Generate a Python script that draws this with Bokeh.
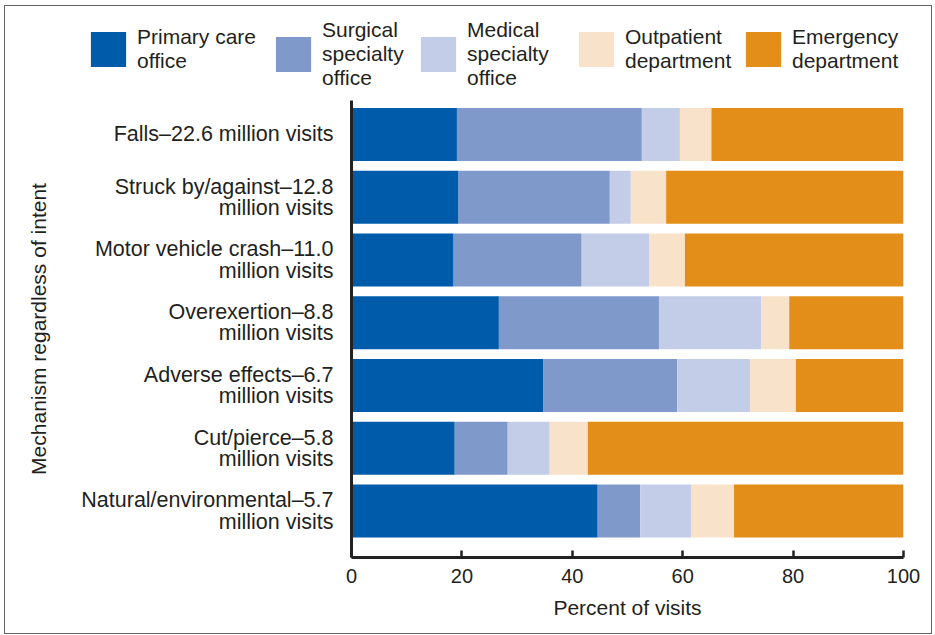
from bokeh.plotting import figure
from bokeh.layouts import column
from bokeh.models import Legend, LegendItem, FixedTicker, ColumnDataSource, Range1d
from bokeh.embed import file_html
from bokeh.resources import INLINE

# ---- data ----
mechanisms = [
    "Falls\u201322.6 million visits",
    "Struck by/against\u201312.8\nmillion visits",
    "Motor vehicle crash\u201311.0\nmillion visits",
    "Overexertion\u20138.8\nmillion visits",
    "Adverse effects\u20136.7\nmillion visits",
    "Cut/pierce\u20135.8\nmillion visits",
    "Natural/environmental\u20135.7\nmillion visits",
]
series_names = ["Primary care\noffice", "Surgical\nspecialty\noffice",
                "Medical\nspecialty\noffice",
                "Outpatient\ndepartment", "Emergency\ndepartment"]
primary = [19.1, 19.4, 18.5, 26.7, 34.7, 18.7, 44.6]
surgical = [33.5, 27.4, 23.2, 29.0, 24.3, 9.6, 7.7]
medical = [6.9, 3.8, 12.2, 18.5, 13.2, 7.6, 9.2]
outpatient = [5.7, 6.4, 6.5, 5.1, 8.3, 6.9, 7.8]
emergency = [34.8, 43.0, 39.6, 20.7, 19.5, 57.2, 30.7]
x_ticks = [0, 20, 40, 60, 80, 100]

colors = ["#005BAA", "#7F99CB", "#C4CDE7", "#F9E2CA", "#E48E1A"]
FONT = "Liberation Sans"
TXT = "#231F20"
# legend item placement (screen px inside the legend strip)
legend_left = [81, 266, 411, 569, 736]

n = len(mechanisms)
ypos = list(range(n - 1, -1, -1))
keys = ["primary", "surgical", "medical", "outpatient", "emergency"]
src = ColumnDataSource(dict(y=ypos, primary=primary, surgical=surgical, medical=medical,
                            outpatient=outpatient, emergency=emergency))

# ---- legend strip (swatches only; off-range dummy glyphs) ----
lg = figure(width=926, height=94, output_backend="svg", toolbar_location=None,
            x_range=Range1d(0, 1), y_range=Range1d(0, 1),
            x_axis_type=None, y_axis_type=None, frame_align=False,
            min_border_left=0, min_border_right=0, min_border_top=0, min_border_bottom=0)
lg.grid.visible = False
lg.outline_line_color = None
lg.border_fill_color = "white"
for nm, c, lx in zip(series_names, colors, legend_left):
    r = lg.rect(x=[-5], y=[-5], width=1, height=1, color=c, line_width=0)
    nlines = nm.count("\n") + 1
    vy = 10 if nlines == 3 else 27
    leg = Legend(items=[LegendItem(label=nm, renderers=[r])],
                 orientation="horizontal", location=(lx, vy),
                 glyph_width=44, glyph_height=44, label_standoff=7,
                 padding=0, margin=0, border_line_color=None, background_fill_alpha=0,
                 label_text_font=FONT, label_text_font_size="21px", label_text_color=TXT,
                 label_height=35)
    lg.add_layout(leg, "center")

# ---- main chart ----
p = figure(width=926, height=533, output_backend="svg", toolbar_location=None,
           x_range=Range1d(0, 100), y_range=Range1d(-0.74, n - 1 + 0.54), frame_align=False,
           min_border_left=346, min_border_right=28, min_border_top=0, min_border_bottom=76)

rs = p.hbar_stack(keys, y="y", height=0.845, color=colors, line_width=0, source=src)

p.grid.visible = False
p.outline_line_color = None
p.background_fill_color = "white"
p.border_fill_color = "white"

xa = p.xaxis[0]
xa.ticker = FixedTicker(ticks=x_ticks)
xa.minor_tick_line_color = None
xa.major_tick_in = 7
xa.major_tick_out = 0
xa.major_tick_line_width = 2.5
xa.major_tick_line_color = "#222"
xa.axis_line_width = 3
xa.axis_line_color = "#222"
xa.major_label_text_font = FONT
xa.major_label_text_font_size = "20px"
xa.major_label_text_color = TXT
xa.major_label_standoff = 11
xa.axis_label = "Percent of visits"
xa.axis_label_text_font = FONT
xa.axis_label_text_font_size = "21px"
xa.axis_label_text_font_style = "normal"
xa.axis_label_text_color = TXT
xa.axis_label_standoff = 10

ya = p.yaxis[0]
ya.ticker = FixedTicker(ticks=ypos)
ya.major_label_overrides = {yy: lab for yy, lab in zip(ypos, mechanisms)}
ya.major_tick_line_color = None
ya.minor_tick_line_color = None
ya.axis_line_width = 3
ya.axis_line_color = "#222"
ya.major_label_text_font = FONT
ya.major_label_text_font_size = "21.5px"
ya.major_label_text_color = TXT
ya.major_label_text_line_height = 0.88
ya.major_label_standoff = 12
ya.axis_label = "Mechanism regardless of intent"
ya.axis_label_text_font = FONT
ya.axis_label_text_font_size = "21px"
ya.axis_label_text_font_style = "normal"
ya.axis_label_text_color = TXT
ya.axis_label_standoff = 28

layout = column(lg, p, spacing=0)
layout.styles = {"border": "1px solid #666", "margin-left": "4px", "margin-top": "5px",
                 "background": "white"}

open("out.html", "w").write(file_html(layout, INLINE))
